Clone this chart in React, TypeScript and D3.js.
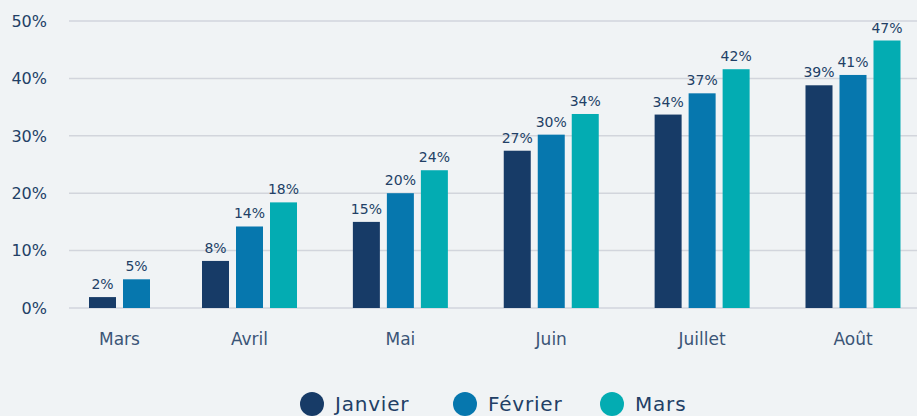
import React, { useEffect, useRef } from "react";
import * as d3 from "d3";

const categories = ["Mars", "Avril", "Mai", "Juin", "Juillet", "Août"];
const seriesNames = ["Janvier", "Février", "Mars"];
const janvier = [1.9, 8.2, 15.0, 27.4, 33.7, 38.8];
const fevrier = [5.0, 14.2, 20.0, 30.2, 37.4, 40.6];
const mars = [null, 18.4, 24.0, 33.8, 41.6, 46.6];
const yTicks = [0, 10, 20, 30, 40, 50];

const colors = ["#173b67", "#0677ae", "#03acb2"];
const W = 917;
const H = 416;

export default function App() {
  const ref = useRef<SVGSVGElement>(null);

  useEffect(() => {
    const svg = d3.select(ref.current);
    svg.selectAll("*").remove();
    const font = "'DejaVu Sans', sans-serif";

    svg.append("rect").attr("width", W).attr("height", H).attr("fill", "#f0f3f5");

    const y = d3.scaleLinear().domain([0, 50]).range([308, 21]);
    // group centres: first group sits closer to the second one in the original
    const x = d3.scaleLinear().domain([0, 1, 5]).range([119.5, 249.5, 853]);

    const values = [janvier, fevrier, mars];

    // gridlines
    svg
      .append("g")
      .selectAll("line")
      .data(yTicks)
      .join("line")
      .attr("x1", 69)
      .attr("x2", W)
      .attr("y1", (d) => y(d))
      .attr("y2", (d) => y(d))
      .attr("stroke", "#d2d5dc")
      .attr("stroke-width", 1.5);

    // y labels
    svg
      .append("g")
      .selectAll("text")
      .data(yTicks)
      .join("text")
      .attr("x", 47)
      .attr("y", (d) => y(d))
      .attr("dy", "0.36em")
      .attr("text-anchor", "end")
      .attr("font-family", font)
      .attr("font-size", 16)
      .attr("fill", "#223f66")
      .text((d) => `${d}%`);

    // bars
    const groups = svg
      .append("g")
      .selectAll("g")
      .data(categories)
      .join("g");

    groups.each(function (cat, i) {
      const present = seriesNames
        .map((s, j) => ({ s, j, v: values[j][i] }))
        .filter((d) => d.v !== null);
      const n = present.length;
      const width = n * 34 - 7;
      const inner = d3
        .scaleBand()
        .domain(present.map((d) => d.s))
        .range([x(i) - width / 2, x(i) + width / 2])
        .paddingInner(7 / 34);
      const g = d3.select(this);
      g.selectAll("rect")
        .data(present)
        .join("rect")
        .attr("x", (d) => inner(d.s)!)
        .attr("width", inner.bandwidth())
        .attr("y", (d) => y(d.v as number))
        .attr("height", (d) => y(0) - y(d.v as number))
        .attr("fill", (d) => colors[d.j]);
      g.selectAll("text.val")
        .data(present)
        .join("text")
        .attr("class", "val")
        .attr("x", (d) => inner(d.s)! + inner.bandwidth() / 2)
        .attr("y", (d) => y(d.v as number) - 8)
        .attr("text-anchor", "middle")
        .attr("font-family", font)
        .attr("font-size", 14)
        .attr("fill", "#223f66")
        .text((d) => `${Math.round(d.v as number)}%`);
      g.append("text")
        .attr("x", x(i))
        .attr("y", 345)
        .attr("text-anchor", "middle")
        .attr("font-family", font)
        .attr("font-size", 17)
        .attr("fill", "#3b5577")
        .text(cat);
    });

    // legend
    const legendX = [312, 465, 612];
    const lg = svg
      .append("g")
      .selectAll("g")
      .data(seriesNames)
      .join("g")
      .attr("transform", (d, i) => `translate(${legendX[i]},404)`);
    lg.append("circle").attr("r", 12).attr("fill", (d, i) => colors[i]);
    lg.append("text")
      .attr("x", 23)
      .attr("y", 7)
      .attr("font-family", font)
      .attr("font-size", 20)
      .attr("letter-spacing", 0.8)
      .attr("fill", "#223f66")
      .text((d) => d);
  });

  return (
    <svg
      ref={ref}
      width={W}
      height={H}
      style={{ position: "absolute", left: 0, top: 0, display: "block" }}
    ></svg>
  );
}
